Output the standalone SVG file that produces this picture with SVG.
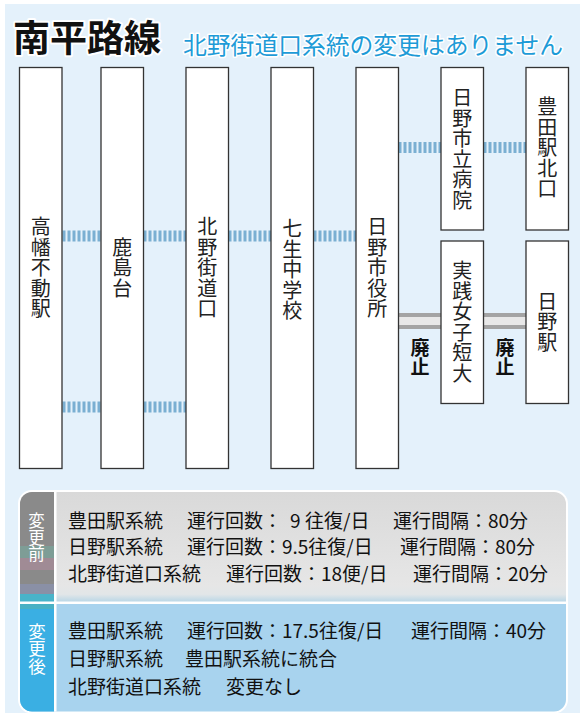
<svg xmlns="http://www.w3.org/2000/svg" width="580" height="713" viewBox="0 0 580 713">
<style>
text{font-family:"Noto Sans CJK JP","Noto Sans",sans-serif}
.bx{fill:#fff;stroke:#333;stroke-width:1.3}
.st{font-size:20px;fill:#222;text-anchor:middle;writing-mode:vertical-rl;letter-spacing:0.5px}
.dot{stroke:#7aafd2;stroke-width:11;stroke-dasharray:3 2;fill:none}
.abo1{stroke:#a4a4a4;stroke-width:16;fill:none}
.abo2{stroke:#e8e8e8;stroke-width:8;fill:none}
.hai{font-size:19px;font-weight:700;fill:#111;text-anchor:middle;writing-mode:vertical-rl}
.pt{font-size:19px;fill:#111}
.lab{fill:#fff;text-anchor:middle;writing-mode:vertical-rl}
</style>
<defs>
<clipPath id="pc"><rect x="20" y="492" width="546" height="219.5" rx="12"/></clipPath>
<linearGradient id="gg" x1="0" y1="0" x2="0" y2="1">
<stop offset="0" stop-color="#d9d9d9"/><stop offset="0.85" stop-color="#e6e6e6"/><stop offset="0.93" stop-color="#e2e6e8"/><stop offset="1" stop-color="#b8d6e6"/>
</linearGradient>
</defs>
<rect x="0" y="0" width="580" height="713" fill="#fff"/>
<rect x="5" y="4" width="575" height="709" fill="#e4f1fb"/>
<g id="title">
<text x="13" y="52" font-size="37" font-weight="700" fill="#111" stroke="#fff" stroke-width="4" paint-order="stroke" stroke-linejoin="round">南平路線</text>
<text x="183" y="54" font-size="23.8" fill="#1e9bd7" stroke="#fff" stroke-width="3" paint-order="stroke" stroke-linejoin="round">北野街道口系統の変更はありません</text>
</g>
<g id="connectors">
<line class="dot" x1="62.5" y1="236" x2="101" y2="236"/>
<line class="dot" x1="62.5" y1="407" x2="101" y2="407"/>
<line class="dot" x1="143.5" y1="236" x2="186" y2="236"/>
<line class="dot" x1="143.5" y1="407" x2="186" y2="407"/>
<line class="dot" x1="228.5" y1="236" x2="271" y2="236"/>
<line class="dot" x1="313.5" y1="236" x2="356" y2="236"/>
<line class="dot" x1="398.5" y1="147.5" x2="441" y2="147.5"/>
<line class="dot" x1="483.5" y1="147.5" x2="526" y2="147.5"/>
<line class="abo1" x1="398.5" y1="321" x2="441" y2="321"/>
<line class="abo2" x1="398.5" y1="321" x2="441" y2="321"/>
<line class="abo1" x1="483.5" y1="321" x2="526" y2="321"/>
<line class="abo2" x1="483.5" y1="321" x2="526" y2="321"/>
<text class="hai" x="420" y="357">廃止</text>
<text class="hai" x="505" y="357">廃止</text>
</g>
<g id="takahata">
<rect class="bx" x="19.5" y="67.5" width="42.5" height="401"/>
<text class="st" x="40.7" y="268">高幡不動駅</text>
</g>
<g id="kashimadai">
<rect class="bx" x="101" y="67.5" width="42.5" height="401"/>
<text class="st" x="122.2" y="268">鹿島台</text>
</g>
<g id="kitanokaidoguchi">
<rect class="bx" x="186" y="67.5" width="42.5" height="401"/>
<text class="st" x="207.2" y="268">北野街道口</text>
</g>
<g id="nanao">
<rect class="bx" x="271" y="67.5" width="42.5" height="401"/>
<text class="st" x="292.2" y="270">七生中学校</text>
</g>
<g id="shiyakusho">
<rect class="bx" x="356" y="67.5" width="42.5" height="401"/>
<text class="st" x="377.2" y="268">日野市役所</text>
</g>
<g id="byoin">
<rect class="bx" x="441" y="67.5" width="42.5" height="162.5"/>
<text class="st" x="462.2" y="149">日野市立病院</text>
</g>
<g id="toyodakitaguchi">
<rect class="bx" x="526" y="67.5" width="42.5" height="162.5"/>
<text class="st" x="547.2" y="148">豊田駅北口</text>
</g>
<g id="jissen">
<rect class="bx" x="441" y="241" width="42.5" height="162.5"/>
<text class="st" x="462.2" y="322">実践女子短大</text>
</g>
<g id="hinoeki">
<rect class="bx" x="526" y="241" width="42.5" height="162.5"/>
<text class="st" x="547.2" y="322">日野駅</text>
</g>
<g id="panel">
<rect x="20" y="492" width="546" height="219.5" rx="12" fill="#fff" stroke="#fff" stroke-width="4"/>
<g clip-path="url(#pc)">
<rect x="20" y="492" width="546" height="110" fill="url(#gg)"/>
<rect x="20" y="492" width="34" height="110" fill="#8a8a8a"/>
<rect x="20" y="546" width="34" height="12" fill="#7e9d96"/>
<rect x="20" y="558" width="34" height="12" fill="#a08b95"/>
<rect x="20" y="584" width="34" height="10" fill="#8a90a6"/>
<rect x="20" y="594" width="34" height="8" fill="#49b3c9"/>
<rect x="20" y="604" width="546" height="108" fill="#a8d3ee"/>
<rect x="20" y="604" width="34" height="108" fill="#3aafe3"/>
<rect x="20" y="604" width="34" height="5" fill="#4ab1c4"/>
<rect x="54" y="492" width="2.5" height="220" fill="#fff"/>
<rect x="20" y="601.5" width="546" height="2.5" fill="#fff"/>
</g>
<text class="lab" x="36.5" y="537.5" font-size="16.5">変更前</text>
<text class="lab" x="37" y="648.5" font-size="17.5">変更後</text>
<text class="pt" y="528"><tspan x="68">豊田駅系統</tspan><tspan x="187">運行回数：</tspan><tspan x="290">9</tspan><tspan x="305">往復/日</tspan><tspan x="393">運行間隔：80分</tspan></text>
<text class="pt" y="554"><tspan x="68">日野駅系統</tspan><tspan x="187">運行回数：9.5往復/日</tspan><tspan x="400">運行間隔：80分</tspan></text>
<text class="pt" y="581"><tspan x="68">北野街道口系統</tspan><tspan x="226">運行回数：18便/日</tspan><tspan x="413">運行間隔：20分</tspan></text>
<text class="pt" y="638"><tspan x="68">豊田駅系統</tspan><tspan x="187">運行回数：17.5往復/日</tspan><tspan x="411">運行間隔：40分</tspan></text>
<text class="pt" y="666"><tspan x="68">日野駅系統</tspan><tspan x="185">豊田駅系統に統合</tspan></text>
<text class="pt" y="694"><tspan x="68">北野街道口系統</tspan><tspan x="226">変更なし</tspan></text>
</g>
</svg>
